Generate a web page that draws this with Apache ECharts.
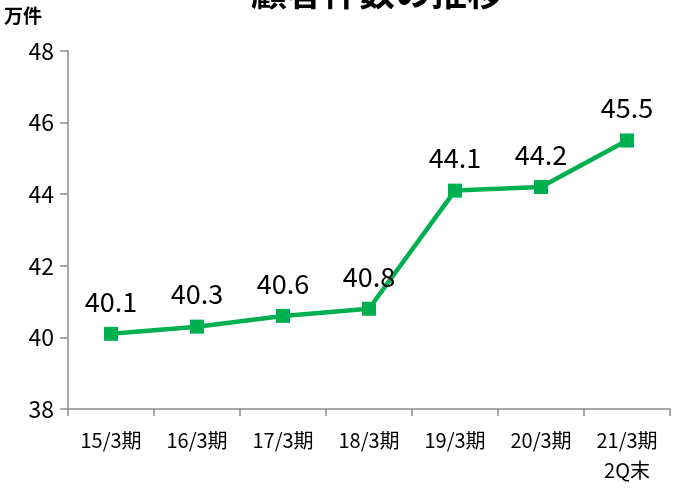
<!DOCTYPE html>
<html>
<head>
<meta charset="utf-8">
<script src="https://cdn.jsdelivr.net/npm/echarts@6/dist/echarts.min.js"></script>
<style>
  html, body { margin: 0; padding: 0; background: #fff; }
  #container { width: 673px; height: 488px; }
</style>
</head>
<body>
<div id="container"></div>
<script>
// 顧客件数（万件）
var categories = ['15/3期', '16/3期', '17/3期', '18/3期', '19/3期', '20/3期', '21/3期\n2Q末'];
var values = [40.1, 40.3, 40.6, 40.8, 44.1, 44.2, 45.5];
var yMin = 38, yMax = 48, yStep = 2;

var font = '"Noto Sans CJK JP", "Noto Sans", sans-serif';

var option = {
    backgroundColor: '#fff',
    animation: false,
    title: {
        text: '顧客件数の推移',
        left: 372,
        textAlign: 'center',
        top: -31,
        textStyle: { fontFamily: font, fontSize: 36, fontWeight: 'bold', color: '#000' }
    },
    graphic: [{
        type: 'text',
        left: 4,
        top: 6,
        style: { text: '万件', font: 'bold 19px ' + font, fill: '#000' }
    }],
    grid: { left: 68, right: 3, top: 51, bottom: 79 },
    xAxis: {
        type: 'category',
        data: categories,
        boundaryGap: true,
        axisLine: { lineStyle: { color: '#8c8c8c', width: 1.5 } },
        axisTick: { show: true, length: 7, lineStyle: { color: '#8c8c8c', width: 1.5 } },
        axisLabel: { color: '#000', fontFamily: font, fontSize: 20, margin: 16, lineHeight: 30 }
    },
    yAxis: {
        type: 'value',
        min: yMin,
        max: yMax,
        interval: yStep,
        axisLine: { show: true, lineStyle: { color: '#8c8c8c', width: 1.5 } },
        axisTick: { show: true, length: 8, lineStyle: { color: '#8c8c8c', width: 1.5 } },
        splitLine: { show: false },
        axisLabel: { color: '#000', fontFamily: font, fontSize: 23, margin: 14 }
    },
    series: [{
        type: 'line',
        data: values,
        symbol: 'rect',
        symbolSize: 14,
        lineStyle: { color: '#00B050', width: 4.5 },
        itemStyle: { color: '#00B050' },
        label: {
            show: true,
            position: 'top',
            distance: 12,
            color: '#000',
            fontFamily: font,
            fontSize: 27,
            formatter: function (p) { return p.value.toFixed(1); }
        }
    }]
};
echarts.init(document.getElementById('container')).setOption(option);
</script>
</body>
</html>
